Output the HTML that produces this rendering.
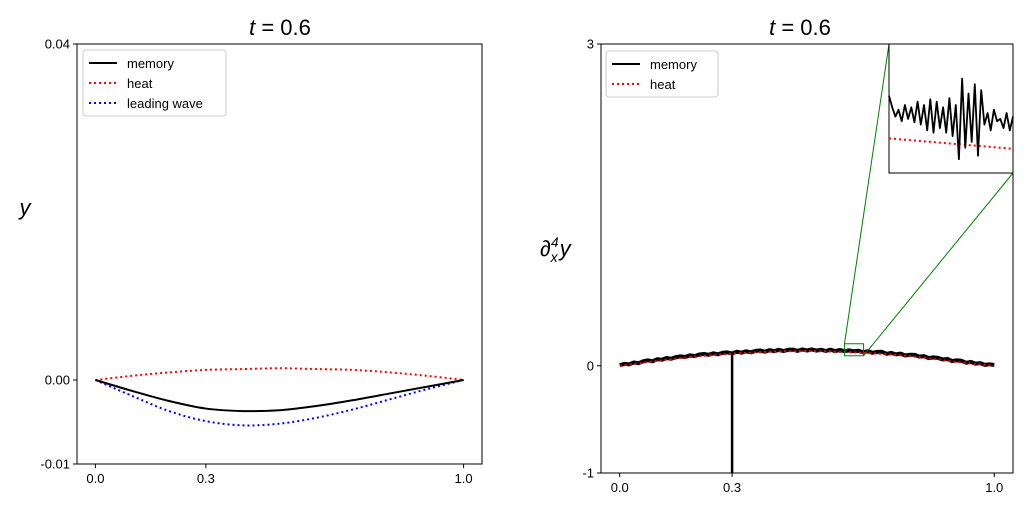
<!DOCTYPE html>
<html><head><meta charset="utf-8"><style>
body{margin:0;background:#fff;width:1024px;height:511px;overflow:hidden}
svg{font-family:"Liberation Sans","DejaVu Sans",sans-serif}
</style></head><body>
<svg id="c" width="1024" height="511" xmlns="http://www.w3.org/2000/svg"></svg>
<script>
const xs=[0,0.1,0.2,0.3,0.4,0.5,0.6,0.7,0.8,0.9,1.0];
const leftMemory=[0,-0.0013,-0.0025,-0.0034,-0.0037,-0.0036,-0.0031,-0.0024,-0.0016,-0.0008,0];
const leftLead=[0,-0.0019,-0.0037,-0.0049,-0.0054,-0.0052,-0.0045,-0.0035,-0.0023,-0.0011,0];
const leftHeat=[0,0.0005,0.0009,0.0012,0.0013,0.0014,0.0013,0.0012,0.0009,0.0005,0];
const rightHeat=[0,0.045,0.085,0.112,0.13,0.137,0.128,0.11,0.08,0.035,0];
const rightMemory=[0.005,0.055,0.097,0.122,0.14,0.147,0.14,0.122,0.09,0.045,0.003];
const memNoise=[0,0.006,-0.005,0.007,-0.006,0.005,0.008,-0.007,0.006,-0.004,0.007,-0.006,0.005,0.007,-0.005,0.006,-0.007,0.005,0.006,-0.004,0.007,-0.006,0.005,0.006,-0.007,0.007,-0.005,0.006,-0.006,0.005,0.007,-0.007,0.006,-0.005,0.007,-0.006,0.005,0.006,-0.007,0.006,-0.005,0.006,-0.004,0.005,-0.006,0.007,-0.005,0.006,-0.004,0.005,0,0.006,-0.005,0.007,-0.006,0.005,0.008,-0.007,0.006,-0.004,0.007,-0.006,0.005,0.007,-0.005,0.006,-0.007,0.005,0.006,-0.004,0.007,-0.006,0.005,0.006,-0.007,0.007,-0.005,0.006,-0.006,0.005,0.004];
const spikeX=0.3, spikeBottom=-1;
const insetX0=0.6, insetX1=0.651, insetY0=0.093, insetY1=0.205;
const insetMem=[0.16,0.15,0.142,0.148,0.138,0.152,0.14,0.15,0.137,0.155,0.135,0.152,0.13,0.157,0.128,0.155,0.132,0.15,0.128,0.158,0.125,0.152,0.105,0.175,0.115,0.162,0.12,0.17,0.108,0.165,0.135,0.145,0.13,0.148,0.138,0.14,0.132,0.145,0.13,0.142];
const insetHeatL=0.123, insetHeatR=0.114;
const leftYTicks=[-0.01,0,0.04], leftYLabels=["-0.01","0.00","0.04"];
const rightYTicks=[-1,0,3], rightYLabels=["-1","0","3"];
const xTicks=[0,0.3,1.0], xLabels=["0.0","0.3","1.0"];

const S=document.getElementById('c');const NS='http://www.w3.org/2000/svg';
function mk(t,a,p){const e=document.createElementNS(NS,t);for(const k in a)e.setAttribute(k,a[k]);(p||S).appendChild(e);return e;}
function lin(d0,d1,r0,r1){return v=>r0+(v-d0)/(d1-d0)*(r1-r0);}
function pts(xa,ya,X,Y){return xa.map((x,i)=>X(x).toFixed(1)+','+Y(ya[i]).toFixed(1)).join(' ');}
function smooth(xa,ya,X,Y){const P=xa.map((x,i)=>[X(x),Y(ya[i])]);let d='M'+P[0][0]+','+P[0][1];
  for(let i=0;i<P.length-1;i++){const p0=P[Math.max(0,i-1)],p1=P[i],p2=P[i+1],p3=P[Math.min(P.length-1,i+2)];
    const c1=[p1[0]+(p2[0]-p0[0])/6,p1[1]+(p2[1]-p0[1])/6],c2=[p2[0]-(p3[0]-p1[0])/6,p2[1]-(p3[1]-p1[1])/6];
    d+=' C'+c1.join(',')+' '+c2.join(',')+' '+p2.join(',');}return d;}

function axes(L,T,R,B,X,Y,yt,yl,name){
  const g=mk('g',{});
  
  
  const fr=mk('rect',{x:L,y:T,width:R-L,height:B-T,fill:'none',stroke:'#000','stroke-width':1},g);
  
  
  yt.forEach((v,i)=>{const y=Y(v);mk('line',{x1:L-4,x2:L,y1:y,y2:y,stroke:'#000'},g);
    const t=mk('text',{x:L-7,y:y+4.5,'text-anchor':'end','font-size':13},g);t.textContent=yl[i];
    
    });
  xTicks.forEach((v,i)=>{const x=X(v);mk('line',{x1:x,x2:x,y1:B,y2:B+4,stroke:'#000'},g);
    const t=mk('text',{x:x,y:B+19,'text-anchor':'middle','font-size':13},g);t.textContent=xLabels[i];
    
    });
}
function title(x,name){const t=mk('text',{x:x,y:35,'text-anchor':'middle','font-size':22});
  t.innerHTML='<tspan font-style="italic">t</tspan> = 0.6';
  
  }
function line(p,stroke,dash,w,name){const e=mk('polyline',{points:p,fill:'none',stroke:stroke,'stroke-width':w,'stroke-dasharray':dash||'none','stroke-linejoin':'round'});
  
  return e;}
function curve(d,stroke,dash,w,name){const e=mk('path',{d:d,fill:'none',stroke:stroke,'stroke-width':w,'stroke-dasharray':dash||'none'});
  
  return e;}
function legend(x,y,w,items,name){const g=mk('g',{});
  
  
  mk('rect',{x:x,y:y,width:w,height:items.length*20+6,rx:3,fill:'#fff',stroke:'#ccc'},g);
  items.forEach((it,i)=>{const yy=y+13+i*20;
    mk('line',{x1:x+6,x2:x+34,y1:yy,y2:yy,stroke:it[1],'stroke-width':2,'stroke-dasharray':it[2]||'none'},g);
    const t=mk('text',{x:x+44,y:yy+5,'font-size':13},g);t.textContent=it[0];
    
    });}

// Left
const LX=lin(-0.05,1.05,77,482), LY=lin(-0.01,0.04,464,44);
axes(77,44,482,464,LX,LY,leftYTicks,leftYLabels,'left-axes');
curve(smooth(xs,leftHeat,LX,LY),'red','2,3',2,'left-heat-line');
curve(smooth(xs,leftLead,LX,LY),'blue','2,3',2,'left-leading-wave-line');
curve(smooth(xs,leftMemory,LX,LY),'#000','',2,'left-memory-line');
legend(83,50,143,[['memory','#000'],['heat','red','2,3'],['leading wave','blue','2,3']],'left-legend');
title(280,'left-title');
let yl=mk('text',{x:25,y:215,'text-anchor':'middle','font-size':22,'font-style':'italic'});yl.textContent='y';



// Right
const RX=lin(-0.05,1.05,601,1013), RY=lin(-1,3,473,44);
axes(601,44,1013,473,RX,RY,rightYTicks,rightYLabels,'right-axes');
const nx=memNoise.map((_,i)=>i/(memNoise.length-1));
function interp(arr,x){const p=x*10,i=Math.min(9,Math.floor(p));return arr[i]+(arr[i+1]-arr[i])*(p-i);}
line(pts(nx,nx.map((x,i)=>interp(rightMemory,x)+memNoise[i]),RX,RY),'#000','',4,'right-memory-line');
curve(smooth(xs,rightHeat,RX,RY),'red','2,3',2,'right-heat-line');
line(pts([spikeX,spikeX],[interp(rightMemory,spikeX),spikeBottom],RX,RY),'#000','',2.5,'memory-spike');
legend(606,51,112,[['memory','#000'],['heat','red','2,3']],'right-legend');
title(800,'right-title');
let yr=mk('text',{x:540,y:256,'font-size':22,'font-style':'italic'});
yr.innerHTML='∂<tspan font-size="14" dy="-9">4</tspan><tspan font-size="14" dy="15" dx="-8">x</tspan><tspan dy="-6" dx="2">y</tspan>';



// zoom box + inset
const zx0=RX(insetX0),zx1=RX(insetX1),zy0=RY(insetY1),zy1=RY(insetY0);
const zb=mk('rect',{x:zx0,y:zy0,width:zx1-zx0,height:zy1-zy0,fill:'none',stroke:'green'});


const IL=889,IT=44,IR=1013,IB=173;
mk('line',{x1:zx0,y1:zy0,x2:IL,y2:IT,stroke:'green'});
mk('line',{x1:zx1,y1:zy1,x2:IR,y2:IB,stroke:'green'});
const IX=lin(insetX0,insetX1,IL,IR), IY=lin(insetY0,insetY1,IB,IT);
const ir=mk('rect',{x:IL,y:IT,width:IR-IL,height:IB-IT,fill:'#fff',stroke:'#000'});


const ix=insetMem.map((_,i)=>insetX0+(insetX1-insetX0)*i/(insetMem.length-1));
line(pts([insetX0,insetX1],[insetHeatL,insetHeatR],IX,IY),'red','2,3',2,'inset-heat-line');
line(pts(ix,insetMem,IX,IY),'#000','',1.8,'inset-memory-line');
</script>
</body></html>
